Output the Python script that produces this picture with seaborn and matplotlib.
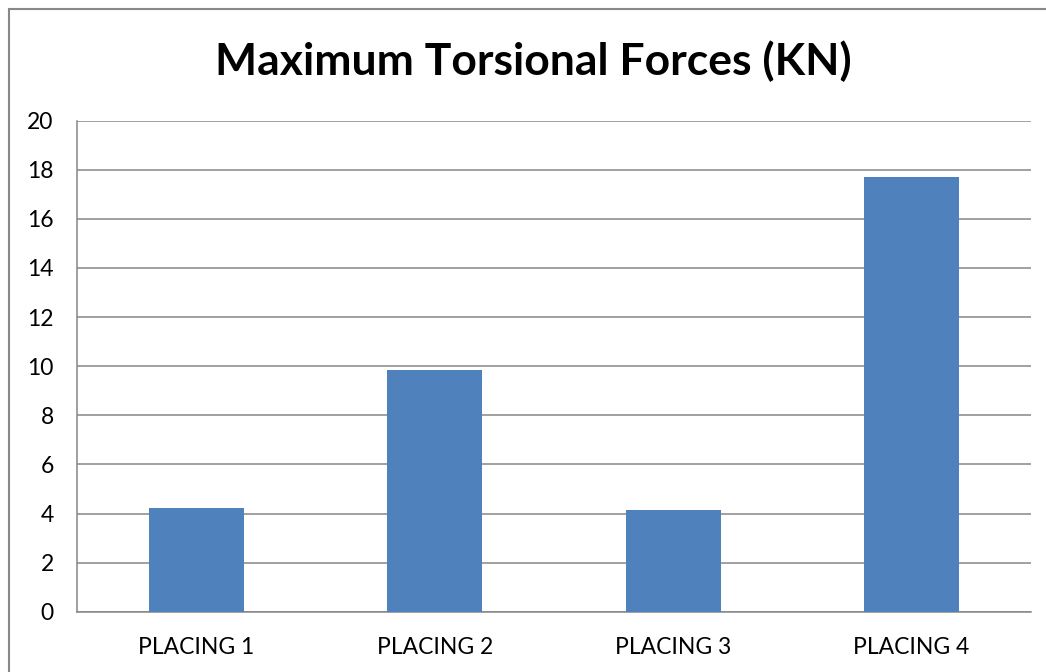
import matplotlib
matplotlib.use("Agg")
import matplotlib.pyplot as plt
from matplotlib.patches import Rectangle
import seaborn as sns
import pandas as pd

# Chart data
placings = ["PLACING 1", "PLACING 2", "PLACING 3", "PLACING 4"]
torsional_force_kn = [4.21, 9.84, 4.14, 17.70]
y_ticks = [0, 2, 4, 6, 8, 10, 12, 14, 16, 18, 20]
title = "Maximum Torsional Forces (KN)"

sns.set_theme(style="white")
plt.rcParams["font.family"] = ["Lato", "DejaVu Sans"]

W, H = 1046, 672
fig = plt.figure(figsize=(W / 100, H / 100), dpi=100)
ax = fig.add_axes([77.3 / W, 1 - 611.7 / H, (1030.7 - 77.3) / W, (611.7 - 120.7) / H])

df = pd.DataFrame({"placing": placings, "force": torsional_force_kn})
sns.barplot(data=df, x="placing", y="force", ax=ax, color="#4F81BD",
            saturation=1, width=0.4, edgecolor="none", zorder=3)

grid_col = "#868686"
ax.set_ylim(0, 20)
ax.set_yticks(y_ticks)
ax.yaxis.grid(True, color=grid_col, linewidth=1.1, zorder=0)
ax.set_axisbelow(True)
for side in ["top", "right"]:
    ax.spines[side].set_visible(False)
for side in ["left", "bottom"]:
    ax.spines[side].set_color(grid_col)
    ax.spines[side].set_linewidth(1.1)
ax.tick_params(axis="y", length=0, pad=17, labelsize=16.5, labelcolor="black")
ax.tick_params(axis="x", length=0, pad=18, labelsize=16.5, labelcolor="black")
ax.set_xlabel("")
ax.set_ylabel("")

fig.text(533 / W, 1 - 61 / H, title, ha="center", va="center",
         fontsize=32, fontweight="bold", color="black")

# Outer chart-area frame
fig.patches.append(Rectangle((8.5 / W, -0.1), 1.2, 1 - 8.5 / H + 0.1,
                             transform=fig.transFigure, fill=False,
                             edgecolor="#888888", linewidth=1.5))

fig.savefig("out.png", dpi=100, facecolor="white")
